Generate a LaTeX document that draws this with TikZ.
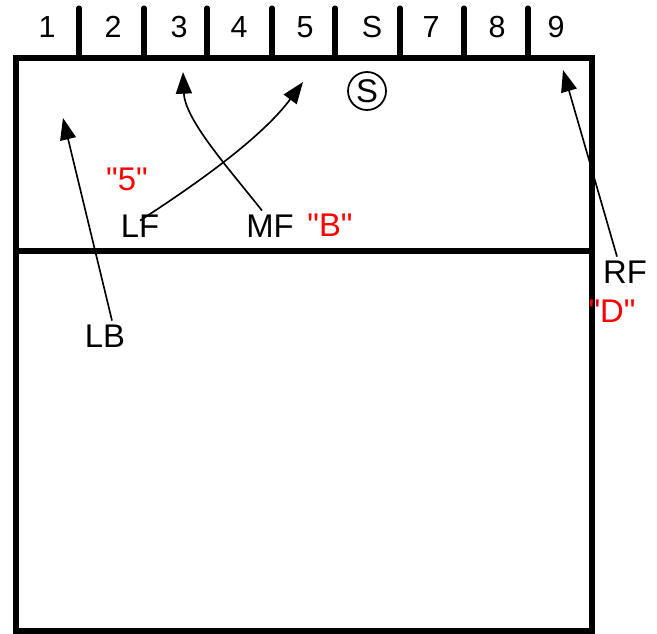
\documentclass[tikz,border=0pt]{standalone}
\usepackage{fontspec}
\setmainfont{Liberation Sans}
\usetikzlibrary{arrows.meta, positioning}
\definecolor{callred}{HTML}{FF0000}

\begin{document}
\begin{tikzpicture}[x=0.03cm, y=-0.03cm,
    zone/.style={font=\fontsize{26}{28}\selectfont},
    player/.style={font=\fontsize{28}{30}\selectfont, text=black},
    call/.style={font=\fontsize{28}{30}\selectfont, text=callred},
    courtline/.style={line width=4.3pt},
    run/.style={line width=1.4pt, -{Triangle[length=0.65cm, width=0.48cm]}},
]
\useasboundingbox (0,0) rectangle (657,633);

% court and attack line
\draw[courtline] (16,58) rectangle (592,631);
\draw[courtline] (16,251) -- (592,251);

% zones along the net
\foreach \x in {79,144,207,272,335,400,464,528}{
    \draw[courtline, line cap=round] (\x,8) -- (\x,58);
}
\foreach \x/\z in {47/1,113/2,179/3,239/4,305/5,372/S,431/7,497/8,556/9}{
    \node[zone] (z\z) at (\x,27) {\z};
}

% setter
\node[draw, circle, line width=1.5pt, minimum size=1.14cm, inner sep=0pt,
    font=\fontsize{28}{30}\selectfont] (setter) at (367,91) {S};

% hitters and their calls
\node[player] (lb) at (105,336) {LB};
\node[player] (lf) at (140,226) {LF};
\node[player] (mf) at (270,226) {MF};
\node[player] (rf) at (625,272) {RF};
\node[call] (c5) at (127,179) {\textquotedbl5\textquotedbl};
\node[call] (cb) at (330,225) {\textquotedbl B\textquotedbl};
\node[call] (cd) at (612,311) {\textquotedbl D\textquotedbl};

% where they go
\coordinate (lbto) at (63,118);
\coordinate (lfto) at (303,82);
\coordinate (mfto) at (183,72);
\coordinate (rfto) at (563,70);
\draw[run] ([xshift=0.21cm]lb.north) -- (lbto);
\draw[run] ([yshift=-0.3cm]lf.north) .. controls (190,188) and (260,140) .. (lfto);
\draw[run] ([xshift=-0.24cm]mf.north) .. controls (230,170) and (185,120) .. (mfto);
\draw[run] ([xshift=-0.24cm]rf.north) -- (rfto);
\end{tikzpicture}
\end{document}
